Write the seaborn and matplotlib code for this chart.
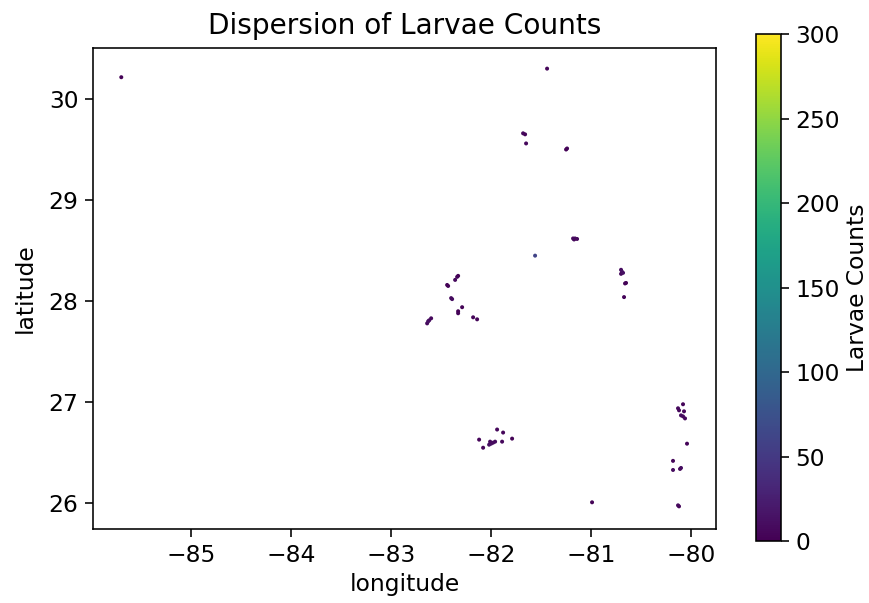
import numpy as np
import pandas as pd
import matplotlib
matplotlib.use("Agg")
import matplotlib.pyplot as plt
import seaborn as sns

longitude = [-85.70, -81.44, -81.68, -81.66, -81.65, -81.24, -81.25,
             -81.18, -81.16, -81.14, -81.17, -81.56,
             -80.70, -80.69, -80.70, -80.68, -80.65, -80.66, -80.67,
             -82.34, -82.33, -82.36, -82.43, -82.44, -82.39, -82.40,
             -82.29, -82.33, -82.33, -82.18, -82.14,
             -82.62, -82.60, -82.64, -82.63,
             -81.94, -81.88, -81.79, -82.12, -82.08, -82.00, -82.02,
             -81.98, -82.01, -81.96, -81.89,
             -80.99, -80.04, -80.18, -80.18, -80.10, -80.11, -80.13, -80.12,
             -80.08, -80.13, -80.12, -80.07, -80.10, -80.06, -80.08]
latitude = [30.215, 30.30, 29.66, 29.65, 29.56, 29.51, 29.50,
            28.62, 28.62, 28.615, 28.61, 28.45,
            28.31, 28.29, 28.27, 28.28, 28.18, 28.175, 28.04,
            28.24, 28.25, 28.21, 28.15, 28.16, 28.02, 28.03,
            27.94, 27.88, 27.90, 27.84, 27.82,
            27.81, 27.83, 27.78, 27.80,
            26.73, 26.70, 26.64, 26.63, 26.55, 26.59, 26.58,
            26.60, 26.61, 26.61, 26.61,
            26.01, 26.59, 26.42, 26.33, 26.35, 26.34, 25.98, 25.97,
            26.98, 26.94, 26.92, 26.91, 26.87, 26.84, 26.86]
larvae_counts = [2, 5, 8, 4, 6, 5, 3,
                 10, 12, 8, 6, 60,
                 10, 15, 8, 12, 5, 3, 4,
                 6, 3, 8, 5, 2, 12, 9,
                 3, 4, 2, 4, 5,
                 10, 7, 8, 12,
                 6, 5, 3, 4, 5, 15, 12,
                 10, 8, 9, 6,
                 3, 4, 5, 10, 12, 8, 10, 6,
                 4, 8, 6, 5, 10, 7, 9]

df = pd.DataFrame({"longitude": longitude, "latitude": latitude,
                   "Larvae Counts": larvae_counts})

W, H, DPI = 869, 603, 144
fig = plt.figure(figsize=(W / DPI, H / DPI), dpi=DPI)
ax = fig.add_axes([93.3 / W, 1 - 529.3 / H, (716 - 93.3) / W, (529.3 - 47.7) / H])
cax = fig.add_axes([756.1 / W, 1 - 541 / H, 24.4 / W, (541 - 34.4) / H])

norm = matplotlib.colors.Normalize(vmin=0, vmax=300)
sns.scatterplot(data=df, x="longitude", y="latitude", hue="Larvae Counts",
                palette="viridis", hue_norm=norm, s=4, linewidth=0,
                legend=False, ax=ax)
ax.set_xlim(-85.98, -79.75)
ax.set_ylim(25.743, 30.507)
ax.set_xticks([-85, -84, -83, -82, -81, -80])
ax.set_yticks([26, 27, 28, 29, 30])
ax.tick_params(labelsize=11.7, length=4)
ax.set_title("Dispersion of Larvae Counts", fontsize=14, pad=7)
ax.set_xlabel("longitude", fontsize=11.7, labelpad=3)
ax.set_ylabel("latitude", fontsize=11.7, labelpad=6)

sm = matplotlib.cm.ScalarMappable(norm=norm, cmap="viridis")
cb = fig.colorbar(sm, cax=cax)
cb.set_ticks([0, 50, 100, 150, 200, 250, 300])
cb.ax.tick_params(labelsize=11.7, length=4)
cb.set_label("Larvae Counts", fontsize=11.7, labelpad=3)

fig.savefig("out.png", dpi=DPI)
